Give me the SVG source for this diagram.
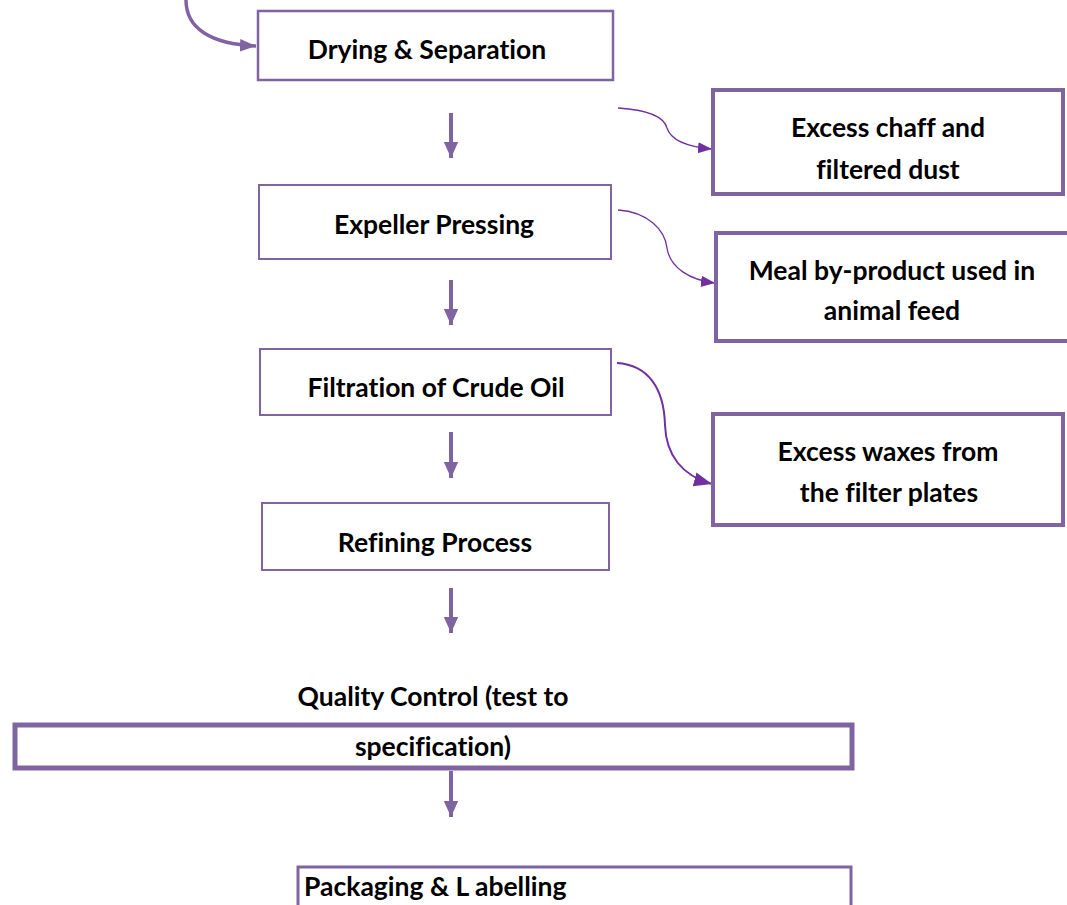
<svg xmlns="http://www.w3.org/2000/svg" width="1067" height="905" viewBox="0 0 1067 905">
<style>
.box{fill:#fff;stroke:#8064A2}
.t{font-family:Lato,"Liberation Sans",sans-serif;font-weight:bold;font-size:26.5px;fill:#000;text-anchor:middle;font-variant-ligatures:none}
.thin{fill:none;stroke:#7030A0;stroke-width:1.3}
.down{stroke:#8064A2;stroke-width:4;fill:none}
</style>
<defs>
<marker id="ah" viewBox="0 0 10 10" refX="10" refY="5" markerWidth="14" markerHeight="14" markerUnits="userSpaceOnUse" orient="auto"><path d="M0,1 L10,5 L0,9 z" fill="#7030A0"/></marker>
<marker id="ah2" viewBox="0 0 10 10" refX="10" refY="5" markerWidth="18" markerHeight="18" markerUnits="userSpaceOnUse" orient="auto"><path d="M0,1 L10,5 L0,9 z" fill="#7030A0"/></marker>
<marker id="ah3" viewBox="0 0 10 10" refX="10" refY="5" markerWidth="16" markerHeight="16" markerUnits="userSpaceOnUse" orient="auto"><path d="M0,1 L10,5 L0,9 z" fill="#8064A2"/></marker>
<marker id="dn" viewBox="0 0 10 10" refX="10" refY="5" markerWidth="16" markerHeight="16" markerUnits="userSpaceOnUse" orient="auto"><path d="M0,0.5 L10,5 L0,9.5 z" fill="#8064A2"/></marker>
</defs>
<g id="connectors">
<path d="M186,0 C186,28 210,44 256,46" fill="none" stroke="#8064A2" stroke-width="3.5" marker-end="url(#ah3)"/>
<path class="thin" d="M618,108 C650,110 664,117 667,128 C671,141 690,147 712,149" marker-end="url(#ah)"/>
<path class="thin" d="M618,210 C648,212 665,230 667,248 C670,268 690,280 715,283" marker-end="url(#ah)"/>
<path d="M617,363 C648,365 664,388 665,425 C666,455 682,476 712,484" fill="none" stroke="#7030A0" stroke-width="2" marker-end="url(#ah2)"/>
<line class="down" x1="451" y1="113" x2="451" y2="158" marker-end="url(#dn)"/>
<line class="down" x1="451" y1="280" x2="451" y2="325" marker-end="url(#dn)"/>
<line class="down" x1="451" y1="432" x2="451" y2="478" marker-end="url(#dn)"/>
<line class="down" x1="451" y1="588" x2="451" y2="633" marker-end="url(#dn)"/>
<line class="down" x1="451" y1="771" x2="451" y2="817" marker-end="url(#dn)"/>
</g>
<g id="drying">
<rect class="box" x="258" y="11" width="355" height="69" stroke-width="2.5"/>
<text class="t" x="427" y="59">Drying &amp; Separation</text>
</g>
<g id="chaff">
<rect class="box" x="713" y="90" width="350" height="104" stroke-width="4"/>
<text class="t" x="888" y="137">Excess chaff and</text>
<text class="t" x="888" y="179">filtered dust</text>
</g>
<g id="expeller">
<rect class="box" x="259" y="185" width="352" height="74" stroke-width="2"/>
<text class="t" x="434" y="234">Expeller Pressing</text>
</g>
<g id="meal">
<rect class="box" x="716" y="233" width="355" height="108" stroke-width="4"/>
<text class="t" x="892" y="280">Meal by-product used in</text>
<text class="t" x="892" y="320">animal feed</text>
</g>
<g id="filtration">
<rect class="box" x="260" y="349" width="351" height="66" stroke-width="2"/>
<text class="t" x="436" y="397">Filtration of Crude Oil</text>
</g>
<g id="waxes">
<rect class="box" x="713" y="414" width="350" height="111" stroke-width="4"/>
<text class="t" x="888" y="461">Excess waxes from</text>
<text class="t" x="889" y="502">the filter plates</text>
</g>
<g id="refining">
<rect class="box" x="262" y="503" width="347" height="67" stroke-width="2"/>
<text class="t" x="435" y="552">Refining Process</text>
</g>
<g id="quality">
<rect class="box" x="15" y="725" width="837" height="43" stroke-width="5"/>
<text class="t" x="433" y="706">Quality Control (test to</text>
<text class="t" x="433" y="756">specification)</text>
</g>
<g id="packaging">
<rect class="box" x="298" y="867" width="553" height="60" stroke-width="3"/>
<text class="t" x="304" y="896" style="text-anchor:start">Packaging &amp; L abelling</text>
</g>
</svg>
